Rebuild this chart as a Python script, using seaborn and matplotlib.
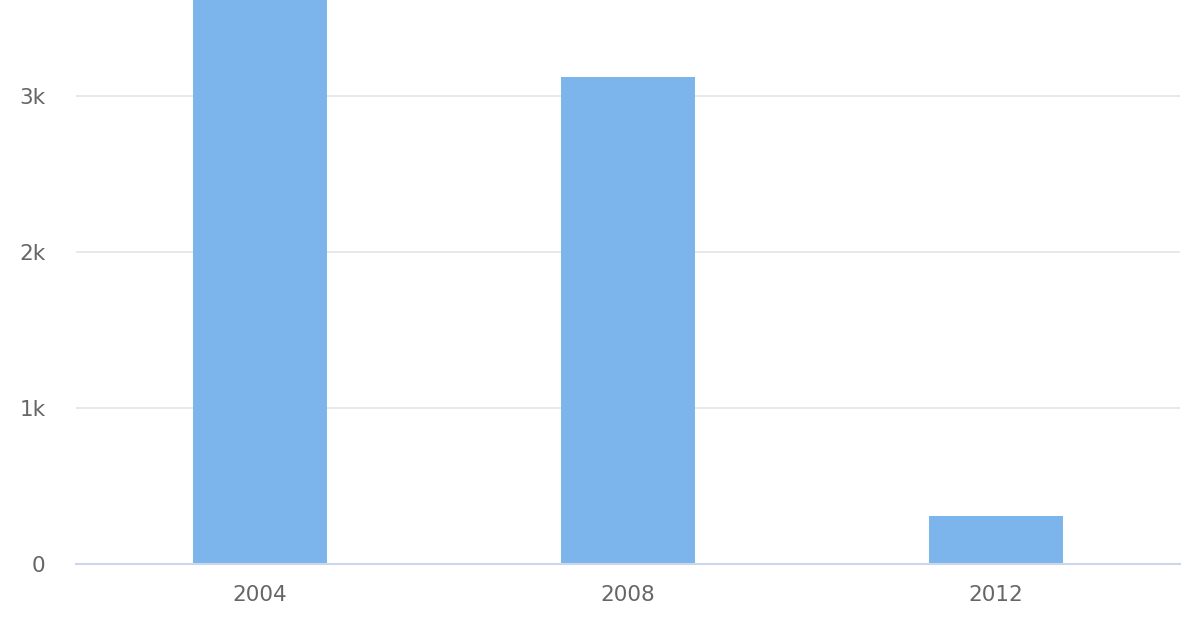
import matplotlib
matplotlib.use("Agg")
import matplotlib.pyplot as plt
import seaborn as sns
import pandas as pd
from matplotlib.ticker import FuncFormatter

years = ["2004", "2008", "2012"]
values = [4200, 3120, 308]
ytick_vals = [0, 1000, 2000, 3000]

sns.set_theme(style="white")
plt.rcParams['font.family'] = ['DejaVu Sans']

fig = plt.figure(figsize=(12, 6.4), dpi=100)
ax = fig.add_axes([76/1200, 1 - 564/640, (1180-76)/1200, 564/640])

df = pd.DataFrame({"year": years, "value": values})
sns.barplot(data=df, x="year", y="value", color="#7cb5ec", saturation=1,
            width=0.366, ax=ax, order=years, linewidth=0, edgecolor="none")

ax.set_xlim(-0.5, 2.5)
ax.set_ylim(0, 3615)
ax.set_yticks(ytick_vals)
ax.yaxis.set_major_formatter(FuncFormatter(lambda v, p: "0" if v == 0 else f"{int(v/1000)}k"))
ax.set_xlabel("")
ax.set_ylabel("")
for y in ytick_vals[1:]:
    ax.axhline(y, color="#e6e6e6", lw=1.3, zorder=0)
ax.set_axisbelow(True)
for s in ["top", "right", "left"]:
    ax.spines[s].set_visible(False)
ax.spines["bottom"].set_color("#ccd6eb")
ax.spines["bottom"].set_linewidth(1.5)
ax.tick_params(axis="x", length=0, pad=15, labelsize=15.5, labelcolor="#666666")
ax.tick_params(axis="y", length=0, pad=22, labelsize=15.5, labelcolor="#666666")
for lbl in ax.get_yticklabels():
    lbl.set_horizontalalignment("right")

fig.savefig("out.png", dpi=100)
